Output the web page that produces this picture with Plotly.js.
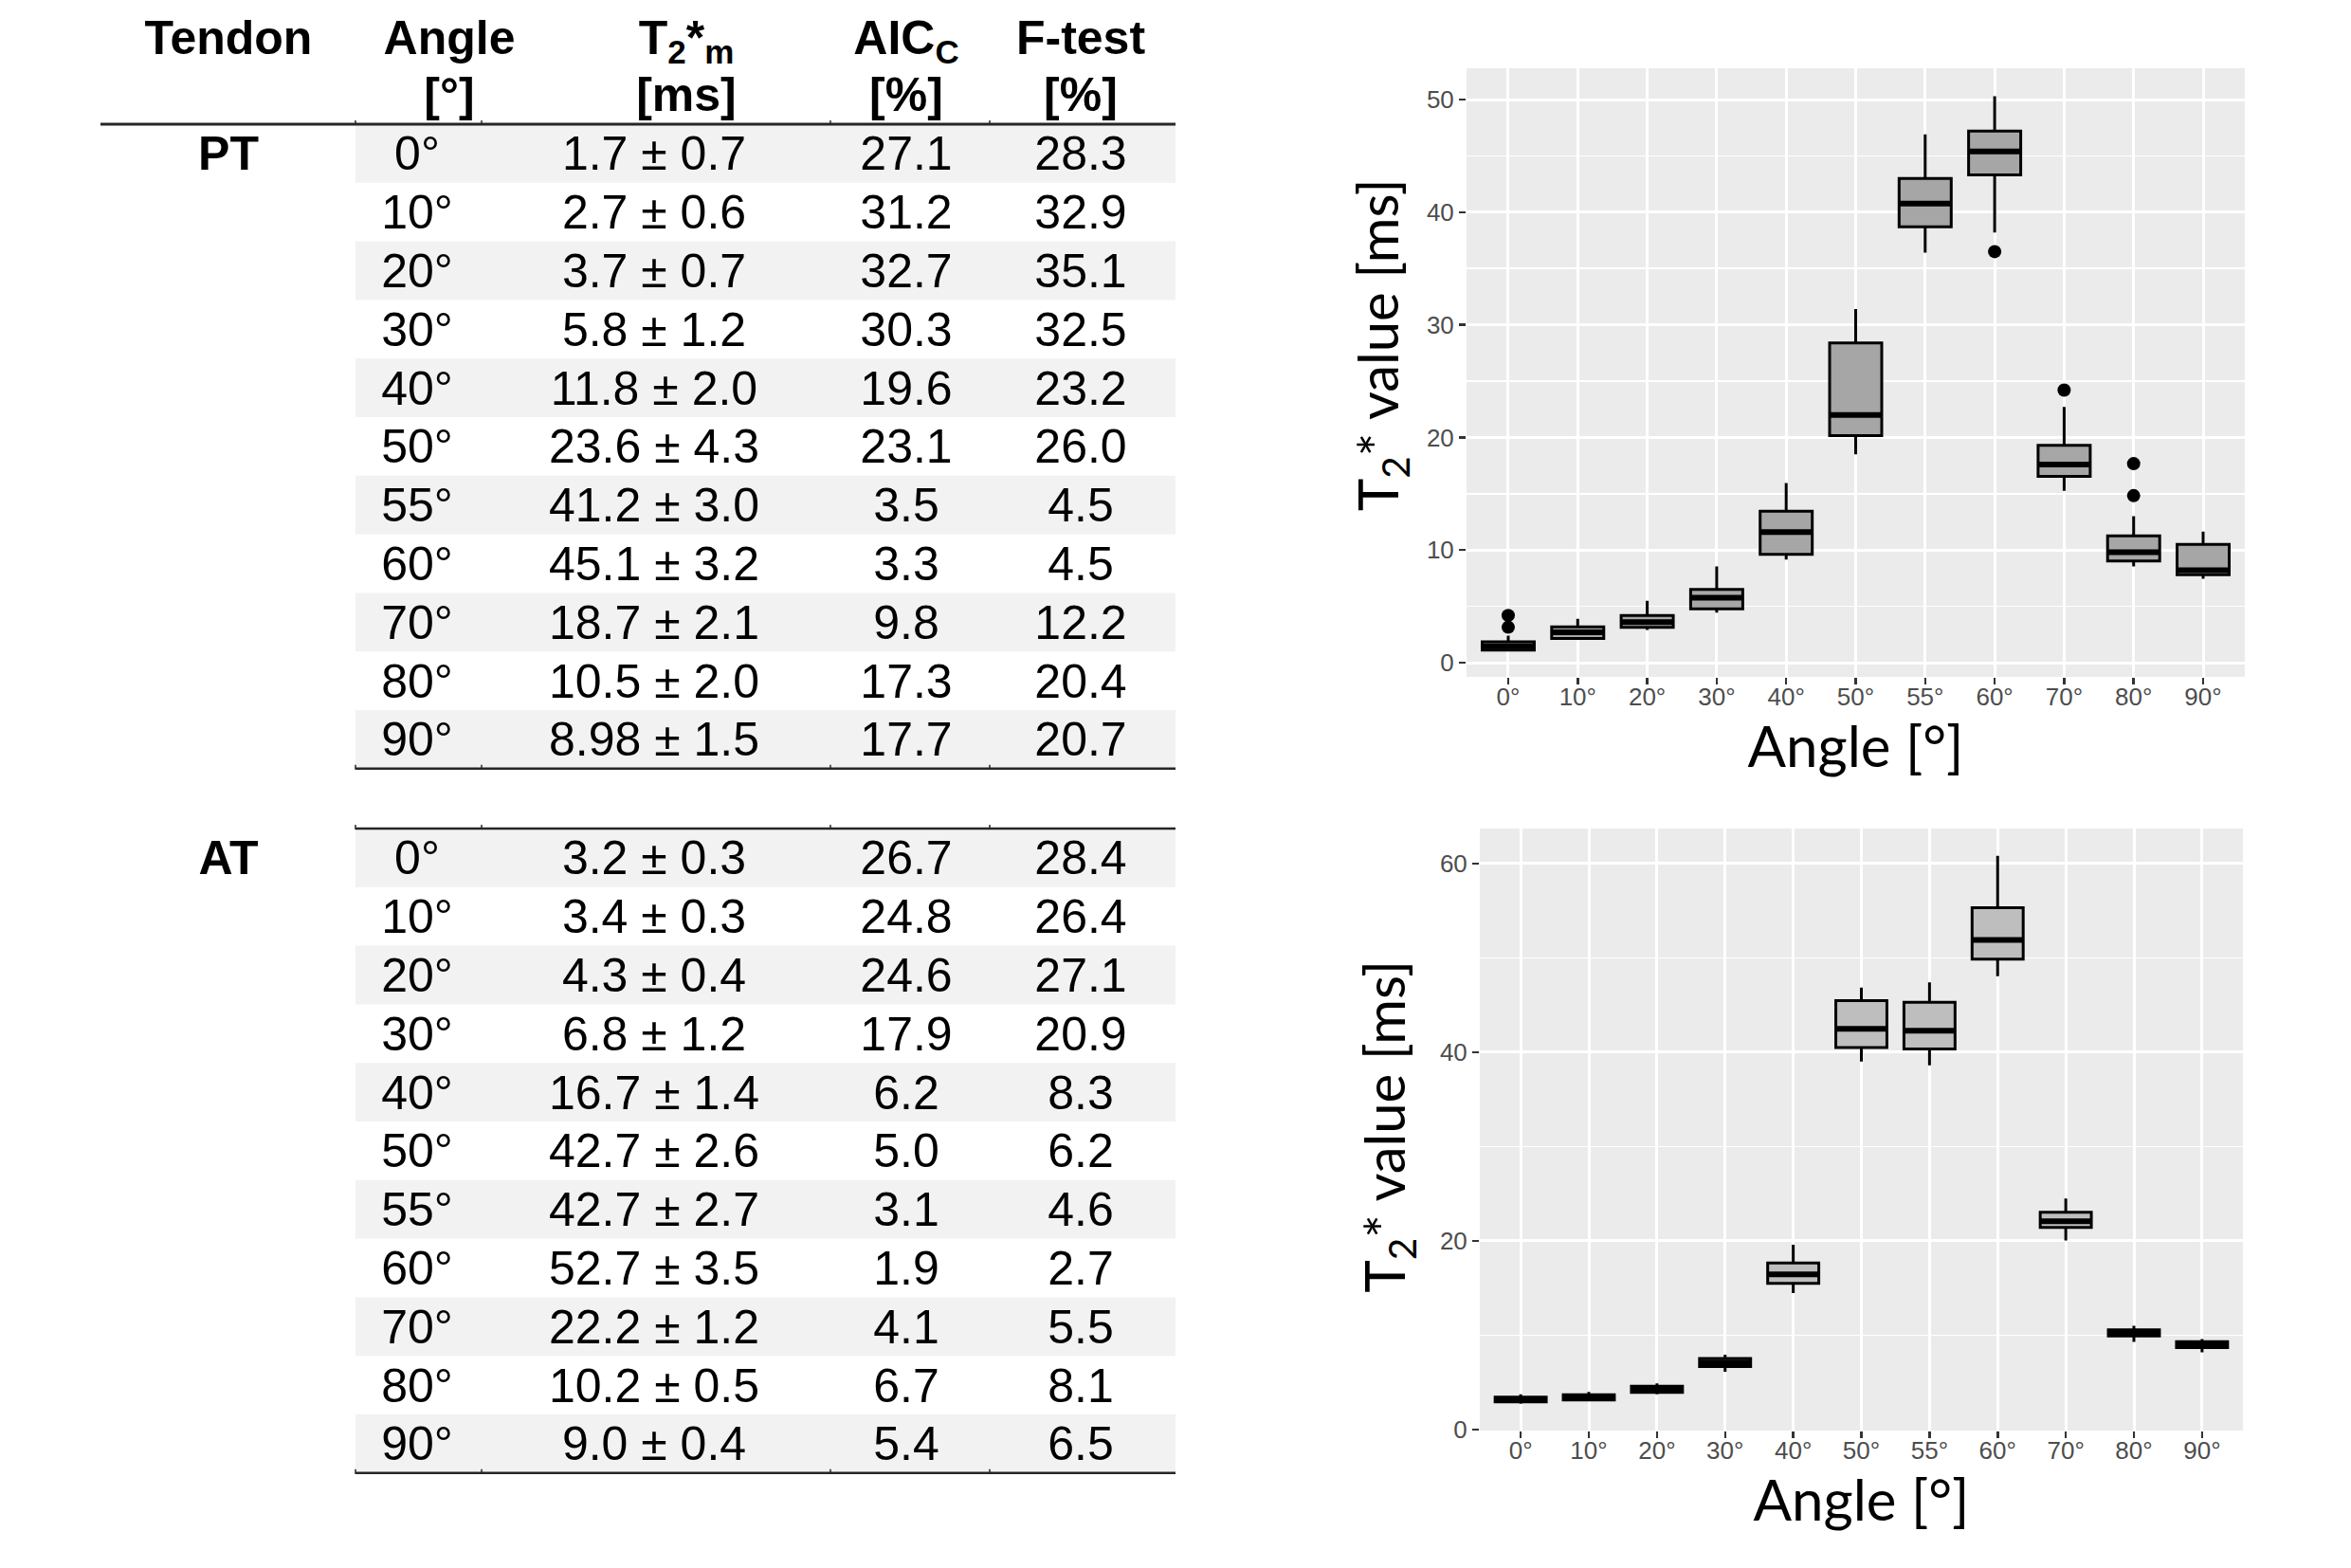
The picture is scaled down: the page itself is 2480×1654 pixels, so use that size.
<!DOCTYPE html>
<html>
<head>
<meta charset="utf-8">
<script src="https://cdn.plot.ly/plotly-3.0.1.min.js"></script>
<style>html,body{margin:0;padding:0;background:#fff;}#plot{width:2480px;height:1654px;}</style>
</head>
<body>
<div id="plot"></div>
<script>
// ---------------- DATA ----------------
const angles = ['0°','10°','20°','30°','40°','50°','55°','60°','70°','80°','90°'];

// Table header
const headerTop = ['Tendon','Angle','T<sub>2</sub>*<sub>m</sub>','AIC<sub>C</sub>','F-test'];
const headerBottom = ['[°]','[ms]','[%]','[%]'];
const tendons = ['PT','AT'];

// PT table
const ptT2m = ['1.7 ± 0.7','2.7 ± 0.6','3.7 ± 0.7','5.8 ± 1.2','11.8 ± 2.0','23.6 ± 4.3','41.2 ± 3.0','45.1 ± 3.2','18.7 ± 2.1','10.5 ± 2.0','8.98 ± 1.5'];
const ptAic = [27.1, 31.2, 32.7, 30.3, 19.6, 23.1, 3.5, 3.3, 9.8, 17.3, 17.7];
const ptF   = [28.3, 32.9, 35.1, 32.5, 23.2, 26.0, 4.5, 4.5, 12.2, 20.4, 20.7];

// AT table
const atT2m = ['3.2 ± 0.3','3.4 ± 0.3','4.3 ± 0.4','6.8 ± 1.2','16.7 ± 1.4','42.7 ± 2.6','42.7 ± 2.7','52.7 ± 3.5','22.2 ± 1.2','10.2 ± 0.5','9.0 ± 0.4'];
const atAic = [26.7, 24.8, 24.6, 17.9, 6.2, 5.0, 3.1, 1.9, 4.1, 6.7, 5.4];
const atF   = [28.4, 26.4, 27.1, 20.9, 8.3, 6.2, 4.6, 2.7, 5.5, 8.1, 6.5];

// PT boxplot (T2* in ms)
const ptLo  = [1.1, 2.05, 2.9, 4.45, 9.15, 18.5, 36.4, 38.2, 15.25, 8.55, 7.45];
const ptQ1  = [1.12, 2.15, 3.14, 4.77, 9.63, 20.16, 38.7, 43.3, 16.55, 9.03, 7.82];
const ptMed = [1.46, 2.7, 3.6, 5.76, 11.6, 22.0, 40.76, 45.4, 17.6, 9.8, 8.2];
const ptQ3  = [1.85, 3.18, 4.2, 6.5, 13.46, 28.4, 43.0, 47.2, 19.3, 11.26, 10.5];
const ptHi  = [2.4, 3.9, 5.5, 8.55, 15.95, 31.4, 46.9, 50.3, 22.7, 13.0, 11.65];
const ptOutAngle = ['0°','0°','60°','70°','80°','80°'];
const ptOutVal   = [3.15, 4.2, 36.5, 24.2, 17.67, 14.83];

// AT boxplot (T2* in ms)
const atLo  = [2.75, 3.0, 3.75, 6.13, 14.48, 39.0, 38.6, 48.05, 20.05, 9.3, 8.2];
const atQ1  = [2.95, 3.14, 3.95, 6.68, 15.49, 40.5, 40.35, 49.87, 21.42, 9.92, 8.7];
const atMed = [3.2, 3.4, 4.3, 7.1, 16.46, 42.48, 42.28, 51.9, 22.08, 10.23, 9.0];
const atQ3  = [3.45, 3.7, 4.6, 7.54, 17.67, 45.47, 45.3, 55.3, 23.04, 10.58, 9.32];
const atHi  = [3.75, 4.0, 4.9, 7.95, 19.6, 46.84, 47.4, 60.8, 24.5, 11.0, 9.6];
const atOutAngle = [];
const atOutVal   = [];

const axisTitleX = 'Angle [°]';
const axisTitleY = 'T<sub>2</sub>* value [ms]';

// ---------------- LAYOUT CONSTANTS ----------------
const W = 2480, H = 1654;
const TBL_W = 0.52 * W;
const T = {
  colTendon: 241, colAngleH: 474, colAngle: 440, colT2H: 724, colT2: 690, colAic: 956, colF: 1140,
  rowH: 61.8, left: 375, right: 1240, headLeft: 106, headLine: 131, atTop: 874,
  head1Y: 44, head2Y: 104, textDy: 5, ticks: [375, 508, 876, 1044]
};
const tableFont = 'Liberation Sans, Arial, sans-serif';
const titleFont = 'Lato, Open Sans, sans-serif';

const traces = [];
const shapes = [];
const annotations = [];

// ---------------- TABLE ----------------
function textTrace(xs, ys, texts, size) {
  return {type: 'scatter', mode: 'text', x: xs, y: ys, text: texts, textposition: 'middle center',
    textfont: {family: tableFont, size: size, color: '#000'}, xaxis: 'x3', yaxis: 'y3',
    hoverinfo: 'skip', showlegend: false, cliponaxis: false};
}
function hline(y, x0, x1, w) {
  shapes.push({type: 'line', xref: 'x3', yref: 'y3', x0: x0, x1: x1, y0: y, y1: y,
    line: {color: '#262626', width: w}, layer: 'above'});
  T.ticks.forEach(tx => {
    if (tx >= x0 && tx <= x1) shapes.push({type: 'line', xref: 'x3', yref: 'y3', x0: tx, x1: tx, y0: y - 4, y1: y + 1,
      line: {color: '#262626', width: 1.5}, layer: 'above'});
  });
}
// header
const headCols = [T.colTendon, T.colAngleH, T.colT2H, T.colAic, T.colF];
const headCols2 = headCols.slice(1);
traces.push(textTrace(headCols, headCols.map(() => T.head1Y), headerTop.map(s => '<b>' + s + '</b>'), 50));
traces.push(textTrace(headCols2, headCols2.map(() => T.head2Y), headerBottom.map(s => '<b>' + s + '</b>'), 50));
hline(T.headLine, T.headLeft, T.right, 3);

function addTable(name, top, t2m, aic, f) {
  const n = angles.length;
  const yc = angles.map((a, i) => top + T.rowH * (i + 0.5) + T.textDy);
  for (let i = 0; i < n; i += 2) {
    shapes.push({type: 'rect', xref: 'x3', yref: 'y3', x0: T.left, x1: T.right,
      y0: top + T.rowH * i, y1: top + T.rowH * (i + 1), fillcolor: '#F2F2F2', line: {width: 0}, layer: 'below'});
  }
  traces.push(textTrace([T.colTendon], [yc[0]], ['<b>' + name + '</b>'], 50));
  traces.push(textTrace(yc.map(() => T.colAngle), yc, angles, 50));
  traces.push(textTrace(yc.map(() => T.colT2), yc, t2m, 50));
  traces.push(textTrace(yc.map(() => T.colAic), yc, aic.map(v => v.toFixed(1)), 50));
  traces.push(textTrace(yc.map(() => T.colF), yc, f.map(v => v.toFixed(1)), 50));
  return top + T.rowH * n;
}
const ptBottom = addTable(tendons[0], T.headLine, ptT2m, ptAic, ptF);
hline(ptBottom, T.left, T.right, 2.5);
hline(T.atTop, T.left, T.right, 2.5);
const atBottom = addTable(tendons[1], T.atTop, atT2m, atAic, atF);
hline(atBottom, T.left, T.right, 2.5);

// ---------------- BOX PLOTS ----------------
const idx = angles.map((a, i) => i);
function addBoxes(xa, ya, lo, q1, med, q3, hi, outA, outV, fill) {
  traces.push({type: 'box', x: idx, lowerfence: lo, q1: q1, median: med, q3: q3, upperfence: hi,
    xaxis: xa, yaxis: ya, fillcolor: fill, line: {color: '#000', width: 3}, whiskerwidth: 0,
    width: 0.75, boxpoints: false, hoverinfo: 'skip', showlegend: false});
  const mx = [], my = [];
  idx.forEach(i => { mx.push(i - 0.375, i + 0.375, null); my.push(med[i], med[i], null); });
  traces.push({type: 'scatter', mode: 'lines', x: mx, y: my, xaxis: xa, yaxis: ya,
    line: {color: '#000', width: 6}, hoverinfo: 'skip', showlegend: false});
  if (outA.length) traces.push({type: 'scatter', mode: 'markers', x: outA.map(a => angles.indexOf(a)), y: outV,
    xaxis: xa, yaxis: ya, marker: {color: '#000', size: 14}, hoverinfo: 'skip', showlegend: false});
}
addBoxes('x', 'y', ptLo, ptQ1, ptMed, ptQ3, ptHi, ptOutAngle, ptOutVal, '#A6A6A6');
addBoxes('x2', 'y2', atLo, atQ1, atMed, atQ3, atHi, atOutAngle, atOutVal, '#BEBEBE');

[['x', 'y'], ['x2', 'y2']].forEach(p => {
  shapes.push({type: 'rect', xref: p[0] + ' domain', yref: p[1] + ' domain', x0: 0, x1: 1, y0: 0, y1: 1,
    fillcolor: '#EBEBEB', line: {width: 0}, layer: 'below'});
});
// y-axis titles (rotated), placed like ggplot's
[['x', 'y', -90, 29], ['x2', 'y2', -98, 3]].forEach(p => {
  annotations.push({text: axisTitleY, xref: p[0] + ' domain', yref: p[1] + ' domain', x: 0, y: 0.5,
    xshift: p[2], yshift: p[3], xanchor: 'center', yanchor: 'middle', textangle: -90, showarrow: false,
    font: {family: titleFont, size: 58, color: '#000'}});
});

const tickFont = {family: tableFont, size: 26, color: '#4D4D4D'};
function xAxis(domain, anchor, standoff) {
  return {domain: domain, anchor: anchor, range: [-0.6, angles.length - 1 + 0.6], tickvals: idx, ticktext: angles,
    showgrid: true, gridcolor: '#FFFFFF', gridwidth: 3, zeroline: false, showline: false,
    ticks: 'outside', ticklen: 7, tickwidth: 2.5, tickcolor: '#333333', tickfont: tickFont, ticklabelstandoff: -9,
    title: {text: axisTitleX, font: {family: titleFont, size: 60, color: '#000'}, standoff: standoff}, fixedrange: true};
}
function yAxis(domain, anchor, range, dtick) {
  return {domain: domain, anchor: anchor, range: range, tick0: 0, dtick: dtick,
    showgrid: true, gridcolor: '#FFFFFF', gridwidth: 3, zeroline: false, showline: false,
    minor: {dtick: dtick / 2, tick0: 0, showgrid: true, gridcolor: '#FFFFFF', gridwidth: 1.5, ticks: ''},
    ticks: 'outside', ticklen: 7, tickwidth: 2.5, tickcolor: '#333333', tickfont: tickFont,
    fixedrange: true};
}

const layout = {
  width: W, height: H, margin: {l: 0, r: 0, t: 0, b: 0}, paper_bgcolor: '#FFFFFF', plot_bgcolor: '#FFFFFF',
  showlegend: false,
  xaxis: xAxis([1547 / W, 2368 / W], 'y', 7),
  yaxis: yAxis([1 - 714 / H, 1 - 72 / H], 'x', [-1.26, 52.78], 10),
  xaxis2: xAxis([1561 / W, 2366 / W], 'y2', 12),
  yaxis2: yAxis([1 - 1509 / H, 1 - 874 / H], 'x2', [-0.1, 63.7], 20),
  xaxis3: {domain: [0, 0.52], anchor: 'y3', range: [0, TBL_W], visible: false, fixedrange: true},
  yaxis3: {domain: [0, 1], anchor: 'x3', range: [H, 0], visible: false, fixedrange: true},
  shapes: shapes,
  annotations: annotations
};

Plotly.newPlot('plot', traces, layout, {staticPlot: true});
</script>
</body>
</html>
